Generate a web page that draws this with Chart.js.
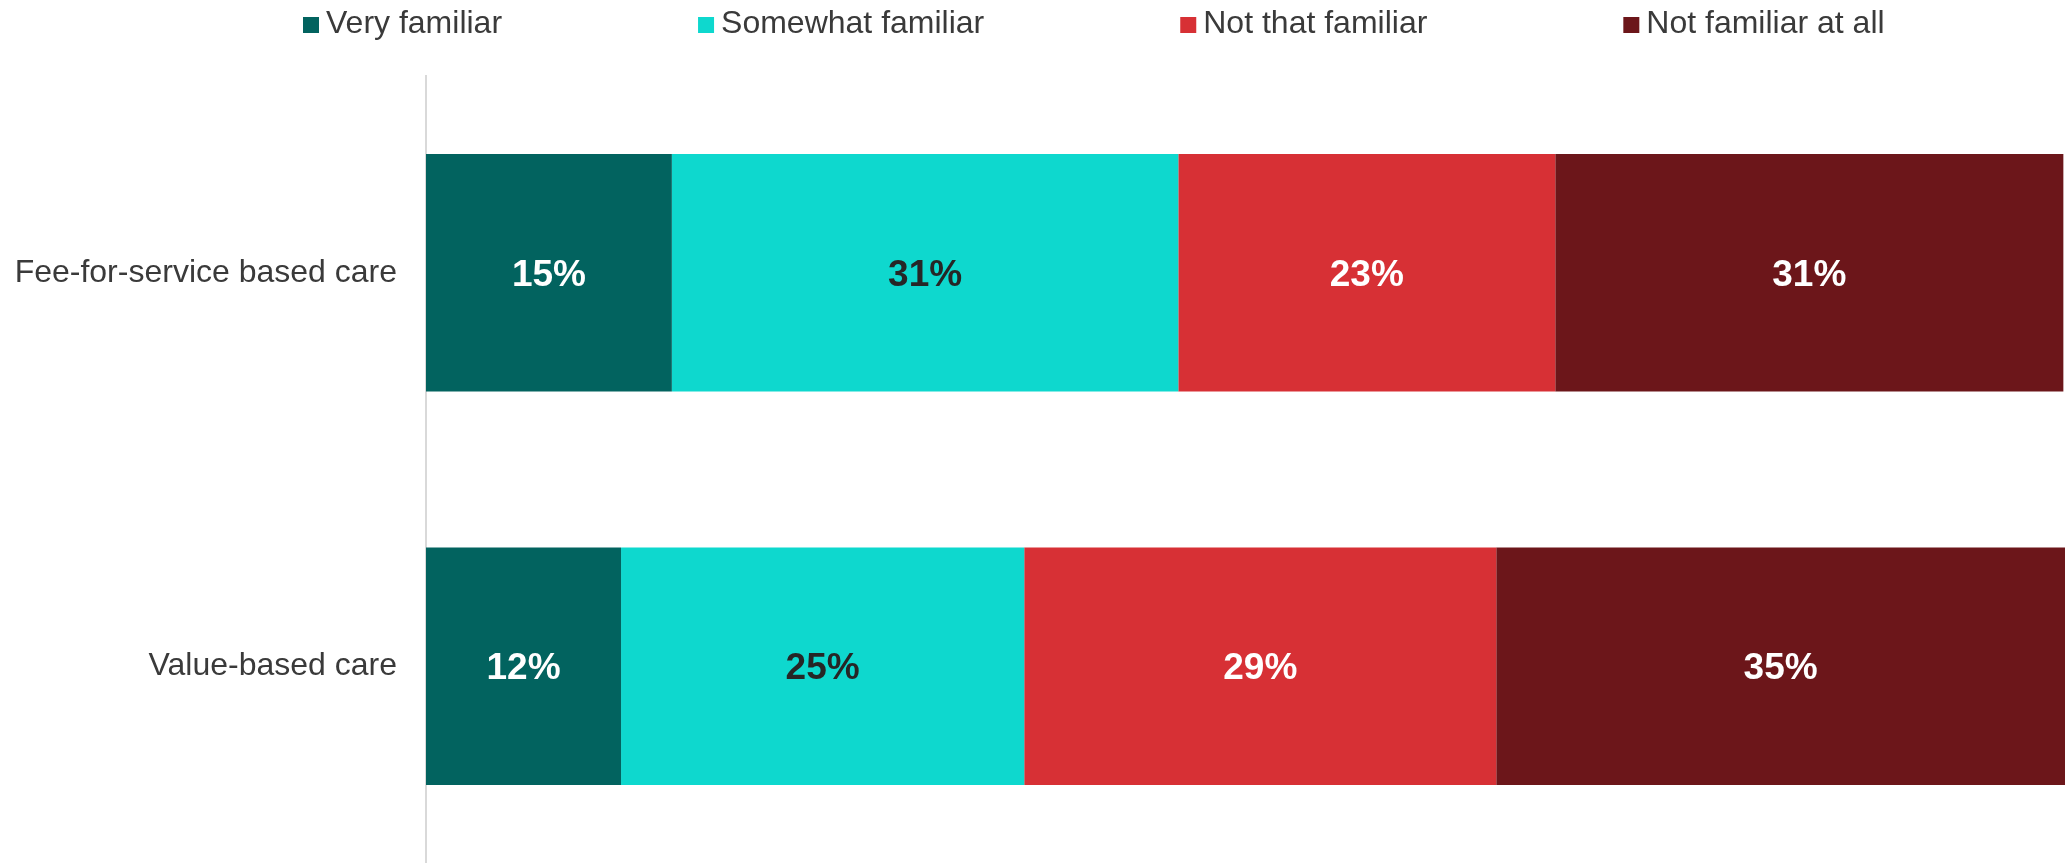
<!DOCTYPE html>
<html>
<head>
<meta charset="utf-8">
<script src="https://cdn.jsdelivr.net/npm/chart.js@4.4.1/dist/chart.umd.min.js"></script>
<style>
  html, body { margin: 0; padding: 0; background: #fff; overflow: hidden; }
  canvas { display: block; }
</style>
</head>
<body>
<canvas id="myChart" width="2072" height="863"></canvas>
<script>
// data
const categories = ["Fee-for-service based care", "Value-based care"];
const seriesNames = ["Very familiar", "Somewhat familiar", "Not that familiar", "Not familiar at all"];
const veryFamiliar = [15.0, 11.9];
const somewhatFamiliar = [30.9, 24.6];
const notThatFamiliar = [23.0, 28.8];
const notFamiliarAtAll = [31.0, 34.7];

const colors = ["#02635F", "#0ED8CE", "#D73035", "#6C161A"];
const labelColors = ["#ffffff", "#262626", "#ffffff", "#ffffff"];
const FONT = "'Liberation Sans', Arial, sans-serif";

// value labels in the middle of each segment
const valueLabels = {
  id: "valueLabels",
  afterDatasetsDraw(chart) {
    const ctx = chart.ctx;
    ctx.save();
    ctx.font = "bold 37px " + FONT;
    ctx.textAlign = "center";
    ctx.textBaseline = "middle";
    chart.data.datasets.forEach((ds, i) => {
      const meta = chart.getDatasetMeta(i);
      ctx.fillStyle = labelColors[i];
      meta.data.forEach((bar, j) => {
        const x = (bar.x + bar.base) / 2;
        ctx.fillText(Math.round(ds.data[j]) + "%", x, bar.y + 3);
      });
    });
    ctx.restore();
  }
};

// legend with the wide gaps used in the original
const wideLegend = {
  id: "wideLegend",
  afterDraw(chart) {
    const ctx = chart.ctx;
    const left = 303, baseline = 33, box = 16, textOffset = 23, gap = 196;
    ctx.save();
    ctx.font = "32px " + FONT;
    ctx.textBaseline = "alphabetic";
    ctx.textAlign = "left";
    let x = left;
    chart.data.datasets.forEach((ds) => {
      ctx.fillStyle = ds.backgroundColor;
      ctx.fillRect(x, baseline - box, box, box);
      ctx.fillStyle = "#3a3a3a";
      ctx.fillText(ds.label, x + textOffset, baseline);
      x += textOffset + ctx.measureText(ds.label).width + gap;
    });
    ctx.restore();
  }
};

const seriesValues = [veryFamiliar, somewhatFamiliar, notThatFamiliar, notFamiliarAtAll];

const ctx = document.getElementById("myChart").getContext("2d");
new Chart(ctx, {
  type: "bar",
  data: {
    labels: categories,
    datasets: seriesNames.map((name, i) => ({
      label: name,
      data: seriesValues[i],
      backgroundColor: colors[i],
      borderWidth: 0,
      barPercentage: 1,
      categoryPercentage: 0.603,
    })),
  },
  options: {
    indexAxis: "y",
    responsive: false,
    devicePixelRatio: 1,
    animation: false,
    layout: { padding: { top: 76, right: 7, bottom: -4, left: 0 } },
    plugins: {
      legend: { display: false },
      tooltip: { enabled: false },
    },
    scales: {
      x: {
        stacked: true,
        min: 0,
        max: 100,
        display: false,
      },
      y: {
        stacked: true,
        grid: { display: false, drawTicks: false },
        border: { display: true, color: "#d9d9d9", width: 2 },
        ticks: {
          color: "#3a3a3a",
          padding: 29,
          font: { family: FONT, size: 32 },
        },
        afterFit(scale) {
          scale.width = 426;
          // the tick padding should not eat into the plot height
          scale.paddingTop = 0;
          scale.paddingBottom = 0;
        },
      },
    },
  },
  plugins: [valueLabels, wideLegend],
});
</script>
</body>
</html>
